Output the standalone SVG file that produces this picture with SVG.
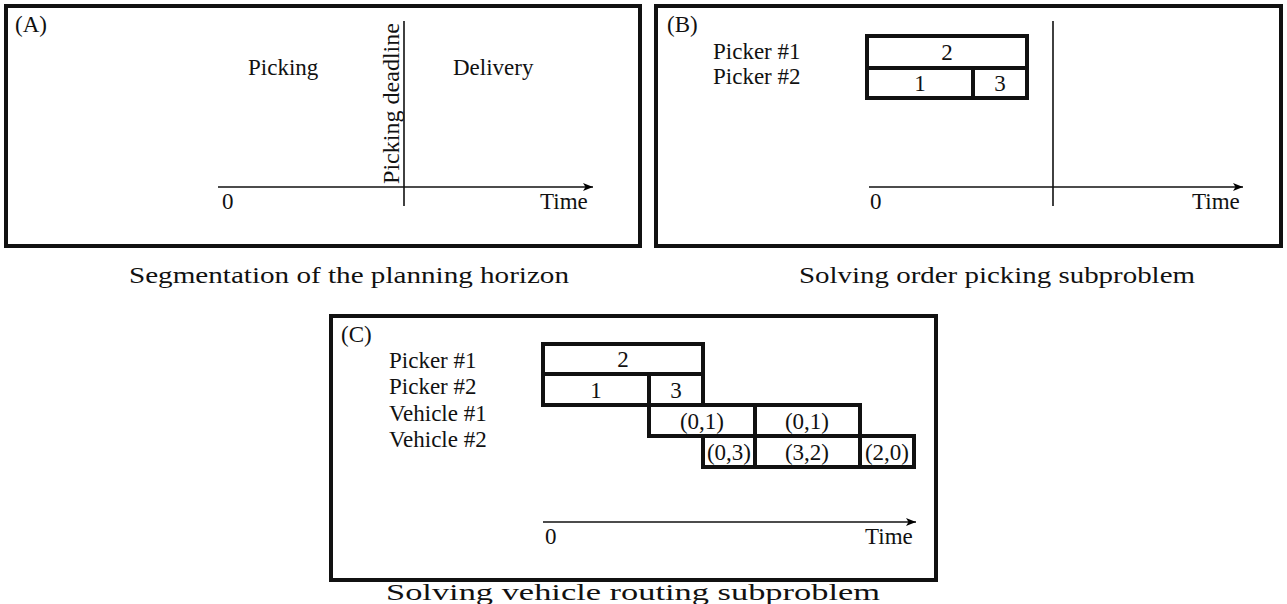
<svg xmlns="http://www.w3.org/2000/svg" width="1287" height="604" viewBox="0 0 1287 604">
<defs>
<marker id="arr" viewBox="0 0 10 8" refX="10" refY="4" markerWidth="10" markerHeight="8" markerUnits="userSpaceOnUse" orient="auto">
<path d="M0,0 L10,4 L0,8 L2.5,4 Z" fill="#000"/>
</marker>
<style>
.panel{fill:#fff;stroke:#111;stroke-width:4}
.box{fill:#fff;stroke:#111;stroke-width:4}
.ln{stroke:#111;stroke-width:1.6;fill:none}
.t{font-family:"Liberation Serif","Times New Roman",serif;font-size:23px;fill:#111}
.c{text-anchor:middle}
.cap{font-family:"Liberation Serif","Times New Roman",serif;font-size:24px;fill:#111;text-anchor:middle}
</style>
</defs>
<rect width="1287" height="604" fill="#fff"/>

<g id="panelA">
<rect class="panel" x="6" y="6" width="634" height="240"/>
<text class="t" x="15" y="32">(A)</text>
<text class="t" x="248" y="75">Picking</text>
<text class="t" x="453" y="75">Delivery</text>
<text class="t" transform="translate(399,184) rotate(-90)" textLength="161" lengthAdjust="spacingAndGlyphs">Picking  deadline</text>
<text class="t" x="222" y="209">0</text>
<text class="t" x="540" y="209">Time</text>
</g>

<g id="panelB">
<rect class="panel" x="656" y="6" width="625" height="240"/>
<text class="t" x="667" y="32">(B)</text>
<text class="t" x="713" y="59">Picker #1</text>
<text class="t" x="713" y="84">Picker #2</text>
<g id="B-picker1"><rect class="box" x="867" y="36" width="160" height="32"/><text class="t c" x="947" y="60">2</text></g>
<g id="B-picker2-1"><rect class="box" x="867" y="68" width="106" height="30"/><text class="t c" x="920" y="91">1</text></g>
<g id="B-picker2-3"><rect class="box" x="973" y="68" width="54" height="30"/><text class="t c" x="1000" y="91">3</text></g>
<text class="t" x="870" y="209">0</text>
<text class="t" x="1192" y="209">Time</text>
</g>

<g id="panelC">
<rect class="panel" x="331" y="316" width="605" height="264"/>
<text class="t" x="341" y="342">(C)</text>
<text class="t" x="389" y="368">Picker #1</text>
<text class="t" x="389" y="394">Picker #2</text>
<text class="t" x="389" y="421">Vehicle #1</text>
<text class="t" x="389" y="447">Vehicle #2</text>
<g id="C-p1-2"><rect class="box" x="543" y="344" width="160" height="30"/><text class="t c" x="623" y="367">2</text></g>
<g id="C-p2-1"><rect class="box" x="543" y="374" width="106" height="31"/><text class="t c" x="596" y="398">1</text></g>
<g id="C-p2-3"><rect class="box" x="649" y="374" width="54" height="31"/><text class="t c" x="676" y="398">3</text></g>
<g id="C-v1-a"><rect class="box" x="649" y="405" width="106" height="31"/><text class="t c" x="702" y="429">(0,1)</text></g>
<g id="C-v1-b"><rect class="box" x="755" y="405" width="105" height="31"/><text class="t c" x="807" y="429">(0,1)</text></g>
<g id="C-v2-a"><rect class="box" x="703" y="436" width="52" height="31"/><text class="t c" x="729" y="460">(0,3)</text></g>
<g id="C-v2-b"><rect class="box" x="755" y="436" width="105" height="31"/><text class="t c" x="807" y="460">(3,2)</text></g>
<g id="C-v2-c"><rect class="box" x="860" y="436" width="54" height="31"/><text class="t c" x="887" y="460">(2,0)</text></g>
<text class="t" x="545" y="544">0</text>
<text class="t" x="865" y="544">Time</text>
</g>

<g id="connectors">
<line class="ln" x1="218" y1="187" x2="593" y2="187" marker-end="url(#arr)"/>
<line class="ln" x1="404" y1="21" x2="404" y2="206"/>
<line class="ln" x1="869" y1="187" x2="1243" y2="187" marker-end="url(#arr)"/>
<line class="ln" x1="1053" y1="21" x2="1053" y2="206"/>
<line class="ln" x1="543" y1="522" x2="916" y2="522" marker-end="url(#arr)"/>
</g>

<g id="captions">
<text class="cap" x="349" y="283" textLength="440" lengthAdjust="spacingAndGlyphs">Segmentation of the planning horizon</text>
<text class="cap" x="997" y="283" textLength="396" lengthAdjust="spacingAndGlyphs">Solving order picking subproblem</text>
<text class="cap" x="633" y="600" textLength="494" lengthAdjust="spacingAndGlyphs">Solving vehicle routing subproblem</text>
</g>
</svg>
